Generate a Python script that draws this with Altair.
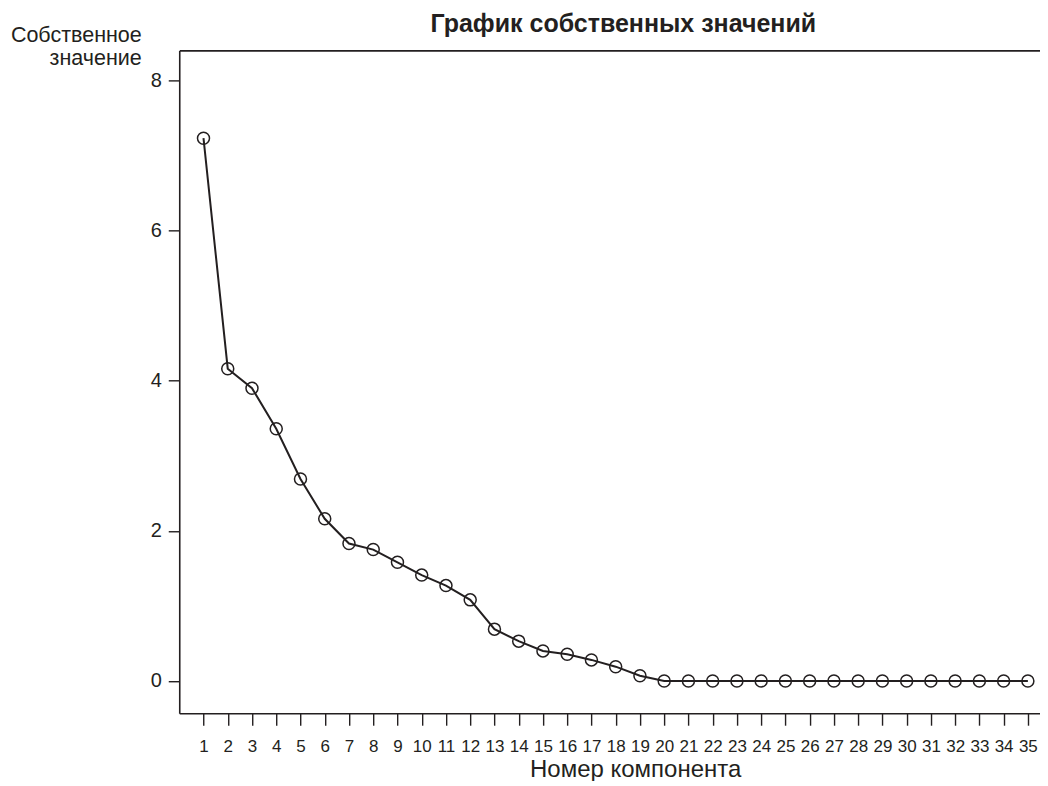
import altair as alt
import pandas as pd

components = list(range(1, 36))
eigenvalues = [7.23, 4.16, 3.90, 3.36, 2.69, 2.16, 1.83, 1.75, 1.58, 1.41,
               1.27, 1.08, 0.69, 0.53, 0.40, 0.355, 0.28, 0.19, 0.07, 0.0,
               0.0, 0.0, 0.0, 0.0, 0.0, 0.0, 0.0, 0.0, 0.0, 0.0,
               0.0, 0.0, 0.0, 0.0, 0.0]
y_ticks = [0, 2, 4, 6, 8]
chart_title = "График собственных значений"

df = pd.DataFrame({"comp": components, "ev": eigenvalues})

DARK = "#231f20"
FONT = "Liberation Sans"

xscale = alt.Scale(domain=[0, 35.5], nice=False, zero=False)
yscale = alt.Scale(domain=[-0.43, 8.40], nice=False, zero=False)


def make_yaxis():
    return alt.Axis(
        values=y_ticks, grid=False, domainColor=DARK, domainWidth=1.6,
        tickColor=DARK, tickWidth=1.4, tickSize=11, labelPadding=7,
        labelFont=FONT, labelFontSize=20, labelColor=DARK,
        title=["Собственное", "значение"], titleAngle=0, titleAlign="right",
        titleBaseline="alphabetic", titleX=-38, titleY=-8.6, titleLineHeight=22.7,
        titleFont=FONT, titleFontSize=21.5, titleFontWeight="normal", titleColor=DARK,
    )


xaxis = alt.Axis(
    values=components, grid=False, orient="bottom", domainColor=DARK, domainWidth=1.6,
    tickColor=DARK, tickWidth=1.4, tickSize=12, labelPadding=13,
    labelFont=FONT, labelFontSize=17, labelColor=DARK, labelAngle=0,
    title="Номер компонента", titleX=456, titleY=63, titleBaseline="alphabetic",
    titleAlign="center", titleFont=FONT, titleFontSize=24, titleFontWeight="normal",
    titleColor=DARK,
)

xaxis_top = alt.Axis(
    orient="top", grid=False, labels=False, ticks=False,
    domainColor=DARK, domainWidth=1.6,
    title=chart_title, titleX=443.7, titleY=-19.3, titleBaseline="alphabetic",
    titleAlign="center", titleFont=FONT, titleFontSize=25, titleFontWeight="bold",
    titleColor=DARK,
)

line = alt.Chart(df).mark_line(color=DARK, strokeWidth=2).encode(
    x=alt.X("comp:Q", scale=xscale, axis=xaxis),
    y=alt.Y("ev:Q", scale=yscale, axis=make_yaxis()),
)

points = alt.Chart(df).mark_point(
    shape="circle", filled=False, size=144, color=DARK, strokeWidth=1.5, opacity=1
).encode(
    x=alt.X("comp:Q", scale=xscale, axis=xaxis_top),
    y=alt.Y("ev:Q", scale=yscale, axis=make_yaxis()),
)

chart = alt.layer(line, points).resolve_axis(x="independent", y="shared").properties(
    width=861, height=663,
    autosize=alt.AutoSizeParams(type="none"),
    padding={"left": 171.3, "top": 42.3, "right": 0, "bottom": 68},
    background="white",
).configure_view(stroke=None)

chart.save("out.html", embed_options={"renderer": "svg", "actions": False})
